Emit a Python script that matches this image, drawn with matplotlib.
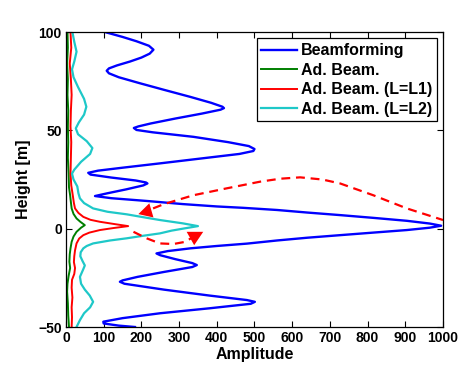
import matplotlib
matplotlib.use("Agg")
import matplotlib.pyplot as plt

plt.rcParams['font.family'] = ['Liberation Sans', 'DejaVu Sans']
plt.rcParams['font.weight'] = 'bold'

# ---- data: (height [m], amplitude) ----
bf_h = [100, 97.5, 95.3, 93, 91, 89, 87, 85, 83, 81.5, 80.3, 79, 77, 74, 70.6, 67, 64, 62, 61.3, 60.5,
        58.5, 56, 53.5, 52, 51.2, 50.2, 49, 46.7, 44, 42, 40.5, 39.5, 38, 35.5, 33.2, 31, 29.5, 28.4,
        27.5, 26, 24.5, 23.5, 23, 22, 20, 18, 16.6, 15.5, 14, 12.5, 11.3, 10.6, 9.5, 8.2, 6.9, 5.5, 4,
        2.6, 1.5, 0.5, -0.7, -2, -3.3, -4.6, -6, -7.6, -8.8, -10, -11.4, -12.6, -13.5, -15.5, -17.5,
        -18.5, -19.5, -22, -24.5, -26.3, -27, -28, -31, -34, -36.3, -37.2, -38.2, -40.5, -43, -45.5,
        -47.3, -48.2, -49.3, -50]
bf_a = [103, 150, 187, 220, 232, 222, 200, 170, 135, 114, 108, 114, 140, 195, 260, 330, 385, 415, 419, 410,
        360, 290, 225, 192, 180, 187, 230, 338, 430, 485, 500, 497, 460, 350, 249, 150, 85, 59,
        65, 120, 185, 212, 216, 205, 160, 110, 77, 120, 220, 310, 400, 470, 560, 640, 727, 815, 904,
        965, 995, 965, 904, 815, 727, 640, 560, 480, 400, 330, 270, 240, 250, 290, 335,
        347, 335, 260, 190, 150, 143, 155, 260, 380, 480, 501, 490, 380, 250, 150,
        99, 100, 140, 183]

ab_h = [100, 92, 84, 76, 68, 60, 52, 44, 36, 28, 21, 17, 13.5, 10.3, 7.5, 5.2, 3.5, 1.8, 0.5, -1.6, -4,
        -6.7, -10, -13, -16.8, -20, -24, -28, -32, -38, -44, -50]
ab_a = [4, 5, 3, 5, 4, 6, 5, 6, 5, 7, 8, 11, 13, 15, 20, 28, 38, 50, 40, 28, 20,
        15, 12, 10, 9, 11, 7, 4, 3, 5, 6, 8]

l1_h = [100, 92, 84, 76, 68, 60, 52, 44, 36, 28, 22, 17, 13, 10.3, 8, 6, 4.5, 3.5, 2.3, 1.3, 0.3, -0.7,
        -2, -3.3, -5, -7.5, -11, -14, -17, -20, -23, -26, -30, -35, -40, -45, -50]
l1_a = [12, 14, 10, 13, 15, 13, 12, 14, 13, 12, 14, 18, 21, 24, 33, 46, 65, 90, 130, 165, 125, 90,
        62, 46, 35, 28, 24, 22, 21, 24, 22, 16, 15, 17, 15, 16, 15]

l2_h = [100, 95, 90, 85, 81, 77, 72, 66, 62, 58, 54, 51, 48, 44.5, 41, 38, 34, 30, 28, 25, 21.5, 18, 15.4,
        13, 10.3, 8.6, 7.3, 5.5, 4.4, 2.7, 1.3, 0, -1, -2.4, -3.6, -4.9, -6, -7.5, -8.8, -10, -12, -14,
        -16.5, -18.7, -21, -24.5, -28, -31, -34, -37.2, -40, -43, -46.5, -50]
l2_a = [17, 22, 28, 22, 16, 20, 32, 48, 54, 48, 34, 26, 32, 55, 70, 64, 40, 22, 16, 20, 30, 33, 37,
        48, 72, 110, 161, 215, 249, 310, 350, 310, 280, 249, 205, 161, 117, 72, 55, 46, 39, 38,
        44, 50, 45, 37, 40, 50, 63, 72, 64, 48, 37, 28]

# dashed annotation arrows (amplitude, height)
arc_up_a = [231, 260, 338, 426, 515, 568, 621, 680, 727, 815, 904, 1000]
arc_up_h = [10.3, 12.5, 17, 20.5, 23.9, 25.4, 26.1, 25, 23, 17, 10.3, 4.4]
head_up_a = [192, 221, 232]
head_up_h = [7.4, 12.9, 5.7]
arc_lo_a = [179, 214, 249, 285, 316, 335]
arc_lo_h = [-1.6, -4.9, -7.5, -7.8, -6.7, -4.5]
head_lo_a = [320, 364, 340]
head_lo_h = [-1.6, -1.6, -8.4]

labels = ['Beamforming', 'Ad. Beam.', 'Ad. Beam. (L=L1)', 'Ad. Beam. (L=L2)']
colors = ['#0000ff', '#007f00', '#ff0000', '#1ec8c8']
xticks = list(range(0, 1001, 100))
yticks = [-50, 0, 50, 100]

fig = plt.figure(figsize=(4.73, 3.65), dpi=100)
ax = fig.add_axes([0.1395, 0.1041, 0.9366 - 0.1395, 0.9123 - 0.1041])

ax.plot(bf_a, bf_h, color=colors[0], lw=1.7, label=labels[0])
ax.plot(ab_a, ab_h, color=colors[1], lw=1.4, label=labels[1])
ax.plot(l1_a, l1_h, color=colors[2], lw=1.4, label=labels[2])
ax.plot(l2_a, l2_h, color=colors[3], lw=1.6, label=labels[3])

ax.plot(arc_up_a, arc_up_h, color='red', lw=1.6, ls=(0, (4, 2.6)), clip_on=False)
ax.plot(arc_lo_a, arc_lo_h, color='red', lw=1.6, ls=(0, (4, 2.6)))
ax.fill(head_up_a, head_up_h, color='red', lw=0)
ax.fill(head_lo_a, head_lo_h, color='red', lw=0)

ax.set_xlim(0, 1000)
ax.set_ylim(-50, 100)
ax.set_xticks(xticks)
ax.set_yticks(yticks)
ax.tick_params(direction='in', length=4, top=True, right=True, labelsize=10, width=0.8, pad=3)
for t in ax.get_xticklabels() + ax.get_yticklabels():
    t.set_fontweight('bold')
for s in ax.spines.values():
    s.set_linewidth(0.9)

ax.set_xlabel('Amplitude', fontsize=11.5, fontweight='bold', labelpad=1)
ax.set_ylabel('Height [m]', fontsize=11.5, fontweight='bold', labelpad=5)

leg = ax.legend(loc='upper right', fancybox=False, edgecolor='black', framealpha=1,
                prop={'weight': 'bold', 'size': 11.5}, handlelength=2.2, handletextpad=0.25,
                labelspacing=0.28, borderaxespad=0.4, borderpad=0.3)
leg.get_frame().set_linewidth(0.9)

fig.savefig('out.png', dpi=100)
